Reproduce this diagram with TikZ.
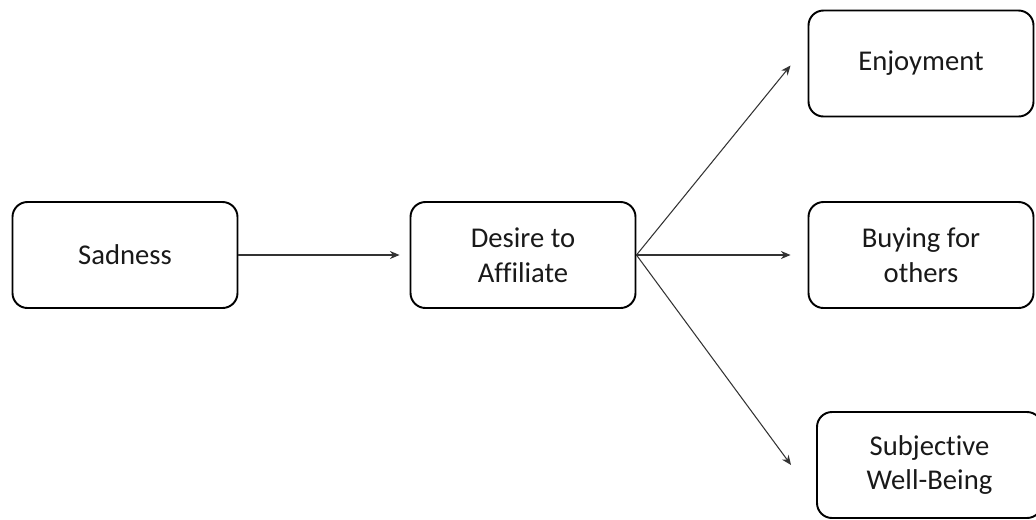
\documentclass[tikz,border=0pt]{standalone}
\usepackage{fontspec}
\setmainfont{Carlito}[Ligatures=NoCommon]
\usetikzlibrary{arrows.meta, positioning}

\begin{document}
\begin{tikzpicture}[node distance=7.96cm, on grid, box/.style={draw, rounded corners=0.3cm, line width=1.1pt, minimum width=4.5cm, minimum height=2.12cm, align=center, font=\fontsize{16.3}{19.8}\selectfont, text=black!90}, link/.style={draw=black!80, line width=0.6pt, ->}, >={Stealth[length=5.5pt,width=4.6pt]}]
        \useasboundingbox (0,0) rectangle (20.72,-10.38);
        \node[box] (sadness) at (2.5,-5.1) {Sadness};
        \node[box, right=of sadness] (desire) {Desire to\\Affiliate};
        \node[box, right=of desire] (buying) {Buying for\\others};
        \node[box, above=3.83cm of buying] (enjoy) {Enjoyment};
        \node[box, below right=4.2cm and 0.17cm of buying] (swb) {Subjective\\Well-Being};

        \coordinate (desire-in) at ([xshift=-0.2cm]desire.west);
        \coordinate (enjoy-in) at ([xshift=-0.34cm,yshift=-0.04cm]enjoy.west);
        \coordinate (buying-in) at ([xshift=-0.34cm]buying.west);
        \coordinate (swb-in) at ([xshift=-0.5cm]swb.west);

        \path
        (sadness) edge[link] (desire-in)
        (desire.east) edge[link] (enjoy-in)
        edge[link] (buying-in)
        edge[link] (swb-in);
    \end{tikzpicture}
\end{document}
